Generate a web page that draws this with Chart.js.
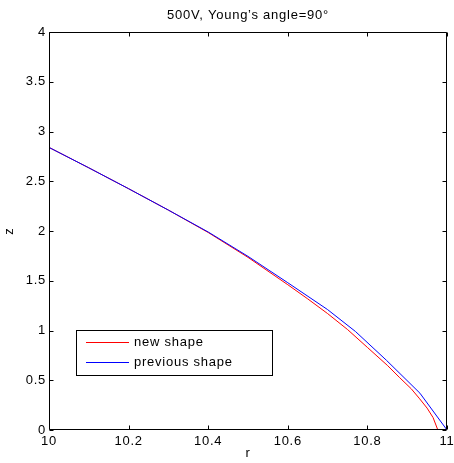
<!DOCTYPE html>
<html>
<head>
<meta charset="utf-8">
<script src="https://cdn.jsdelivr.net/npm/chart.js@4/dist/chart.umd.min.js"></script>
<style>
html,body{margin:0;padding:0;background:#fff;}
#wrap{width:454px;height:463px;}
</style>
</head>
<body>
<div id="wrap"><canvas id="c" width="454" height="463"></canvas></div>
<script>
const chartTitle = "500V, Young\u2019s angle=90\u00b0";
const xLabel = "r";
const yLabel = "z";
const seriesNames = ["new shape", "previous shape"];
const newShapeR = [10.0, 10.1, 10.2, 10.3, 10.4, 10.5, 10.6, 10.65, 10.7, 10.75, 10.8, 10.85, 10.88, 10.91, 10.93, 10.95, 10.965, 10.977];
const newShapeZ = [2.84, 2.635, 2.425, 2.21, 1.985, 1.735, 1.46, 1.318, 1.17, 1.01, 0.83, 0.65, 0.53, 0.415, 0.32, 0.22, 0.125, 0.0];
const prevShapeR = [10.0, 10.1, 10.2, 10.3, 10.4, 10.5, 10.6, 10.7, 10.77, 10.848, 10.932, 11.0];
const prevShapeZ = [2.84, 2.635, 2.425, 2.21, 1.99, 1.745, 1.48, 1.21, 0.99, 0.70, 0.37, 0.0];
const xTicks = [10, 10.2, 10.4, 10.6, 10.8, 11];
const yTicks = [0, 0.5, 1, 1.5, 2, 2.5, 3, 3.5, 4];

const FONT = "'Liberation Sans', Arial, sans-serif";
const SPACING = '0.75px';
const toPts = (xs, ys) => xs.map((x, i) => ({x: x, y: ys[i]}));

const textSpacing = {
  id: 'textSpacing',
  beforeInit(chart) { chart.ctx.letterSpacing = SPACING; },
  beforeUpdate(chart) { chart.ctx.letterSpacing = SPACING; },
  beforeDraw(chart) { chart.ctx.letterSpacing = SPACING; }
};

const frameTicks = {
  id: 'frameTicks',
  afterDraw(chart) {
    const {ctx, chartArea: a, scales} = chart;
    ctx.save();
    ctx.strokeStyle = '#000';
    ctx.lineWidth = 1;
    const l = Math.round(a.left) + 0.5, r = Math.round(a.right) - 0.5;
    const t = Math.round(a.top) + 0.5, b = Math.round(a.bottom) - 0.5;
    ctx.beginPath();
    ctx.rect(l, t, r - l, b - t);
    ctx.stroke();
    const L = 4;
    ctx.beginPath();
    xTicks.forEach(v => {
      const px = Math.round(scales.x.getPixelForValue(v)) + 0.5;
      ctx.moveTo(px, b); ctx.lineTo(px, b - L);
      ctx.moveTo(px, t); ctx.lineTo(px, t + L);
    });
    yTicks.forEach(v => {
      const py = Math.round(scales.y.getPixelForValue(v)) + 0.5;
      ctx.moveTo(l, py); ctx.lineTo(l + L, py);
      ctx.moveTo(r, py); ctx.lineTo(r - L, py);
    });
    ctx.stroke();

    // legend box
    const bx = 76.5, by = 330.5, bw = 196, bh = 45;
    ctx.fillStyle = '#fff';
    ctx.fillRect(bx, by, bw, bh);
    ctx.strokeRect(bx, by, bw, bh);
    ctx.font = '13px ' + FONT;
    ctx.letterSpacing = SPACING;
    ctx.textBaseline = 'middle';
    ctx.textAlign = 'left';
    chart.data.datasets.forEach((ds, i) => {
      const ly = 342.5 + i * 20;
      ctx.strokeStyle = ds.borderColor;
      ctx.beginPath();
      ctx.moveTo(86, ly); ctx.lineTo(129, ly);
      ctx.stroke();
      ctx.fillStyle = '#000';
      ctx.fillText(ds.label, 134, ly);
    });
    ctx.restore();
  }
};

new Chart(document.getElementById('c'), {
  type: 'scatter',
  data: {
    datasets: [
      {label: seriesNames[0], data: toPts(newShapeR, newShapeZ), showLine: true, borderColor: '#ff0000', backgroundColor: '#ff0000', borderWidth: 1, pointRadius: 0, tension: 0, order: 1},
      {label: seriesNames[1], data: toPts(prevShapeR, prevShapeZ), showLine: true, borderColor: '#0000ff', backgroundColor: '#0000ff', borderWidth: 1, pointRadius: 0, tension: 0, order: 0}
    ]
  },
  plugins: [textSpacing, frameTicks],
  options: {
    responsive: false,
    animation: false,
    devicePixelRatio: 1,
    layout: {padding: {left: 0, right: 7, top: 0, bottom: 0}},
    plugins: {
      legend: {display: false},
      tooltip: {enabled: false},
      title: {display: true, fullSize: false, text: chartTitle, color: '#000', font: {family: FONT, size: 13, weight: 'normal'}, padding: {top: 8, bottom: 8.4}}
    },
    scales: {
      x: {
        type: 'linear', min: 10, max: 11,
        afterBuildTicks: s => { s.ticks = xTicks.map(v => ({value: v})); },
        afterFit: s => { s.height = 33; s.paddingLeft = 0; s.paddingRight = 0; },
        grid: {display: false, drawTicks: false},
        border: {display: false},
        ticks: {color: '#000', font: {family: FONT, size: 13}, padding: 4, maxRotation: 0, autoSkip: false, callback: v => String(v)},
        title: {display: true, text: xLabel, color: '#000', font: {family: FONT, size: 13}, padding: {top: 0, bottom: 2}}
      },
      y: {
        type: 'linear', min: 0, max: 4,
        afterBuildTicks: s => { s.ticks = yTicks.map(v => ({value: v})); },
        afterFit: s => { s.width = 49; s.paddingTop = 0; s.paddingBottom = 0; },
        grid: {display: false, drawTicks: false},
        border: {display: false},
        ticks: {color: '#000', font: {family: FONT, size: 13}, padding: 3, autoSkip: false, callback: v => String(v)},
        title: {display: true, text: yLabel, color: '#000', font: {family: FONT, size: 13}, padding: {top: 2, bottom: 0}}
      }
    }
  }
});
</script>
</body>
</html>
